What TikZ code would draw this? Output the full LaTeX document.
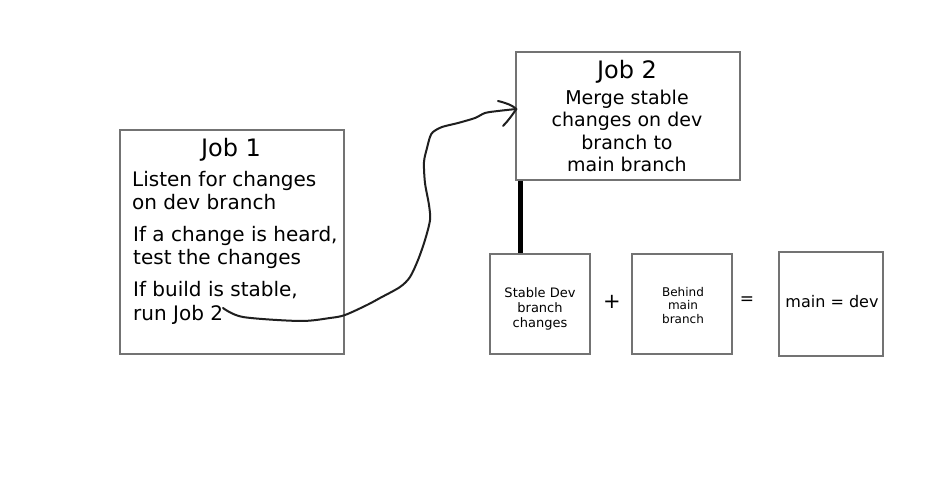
\documentclass[tikz,border=0pt]{standalone}
\usepackage{fontspec}
\setmainfont{DejaVu Sans}
\begin{document}
\begin{tikzpicture}[x=1pt,y=-1pt,
  box/.style={draw=black!55, line width=1.3pt, inner sep=0pt},
  txt/.style={inner sep=0pt, text=black},
  hand/.style={draw=black!88, line width=2pt, line cap=round, line join=round}]
\useasboundingbox[fill=white] (0,0) rectangle (935,486);
% boxes
\node[box, minimum width=224pt, minimum height=224pt] (job1) at (232,242) {};
\node[box, minimum width=224pt, minimum height=128pt] (job2) at (628,116) {};
\node[box, minimum width=100pt, minimum height=100pt] (stable) at (540,304) {};
\node[box, minimum width=100pt, minimum height=100pt] (behind) at (682,304) {};
\node[box, minimum width=104pt, minimum height=104pt] (result) at (831,304) {};
% Job 1 texts (base anchor = baseline of last line)
\node[txt, anchor=base, font=\fontsize{24}{28}\selectfont] (j1title) at (231,157) {Job 1};
\node[txt, anchor=base west, align=left, font=\fontsize{20}{23.5}\selectfont] (j1a) at (132,210) {Listen for changes\\on dev branch};
\node[txt, anchor=base west, align=left, font=\fontsize{20}{23.5}\selectfont] (j1b) at (133,265) {If a change is heard,\\test the changes};
\node[txt, anchor=base west, align=left, font=\fontsize{20}{23.5}\selectfont] (j1c) at (133,320.5) {If build is stable,\\run Job 2};
% Job 2 texts
\node[txt, anchor=base, font=\fontsize{24}{28}\selectfont] (j2title) at (627,79) {Job 2};
\node[txt, anchor=base, align=center, font=\fontsize{19}{22.4}\selectfont] (j2a) at (627,171.7) {Merge stable\\changes on dev\\branch to\\main branch};
% small boxes texts
\node[txt, align=center, font=\fontsize{13}{14.6}\selectfont] (stabletxt) at (540,309) {Stable Dev\\branch\\changes};
\node[txt, align=center, font=\fontsize{12}{13.7}\selectfont] (behindtxt) at (683,305.5) {Behind\\main\\branch};
\node[txt, font=\fontsize{16}{19}\selectfont] (resulttxt) at (832,302) {main = dev};
\node[txt, font=\fontsize{21}{24}\selectfont] (plus) at (612,302) {+};
\node[txt, font=\fontsize{17}{20}\selectfont] (eq) at (747,301) {=};
% thick link
\draw[line width=5pt, black] ([xshift=5pt]job2.south west) -- ([xshift=5pt]job2.south west |- stable.north);
% hand-drawn arrow
\coordinate (start) at (223,308);
\coordinate (tip) at ([yshift=7pt,xshift=1pt]job2.west);
\draw[hand] plot[smooth, tension=0.5] coordinates {(start) (243,317) (300,321) (330,318) (345,315) (367,305) (380,298) (400,287) (410,277) (418,260) (425,240) (430,220) (429,205) (425,183) (424,162) (427,148) (430,137) (433,132) (442,127) (458,123) (475,118) (485,113) (498,111) (tip)};
\draw[hand] (498,101) .. controls (506,103) and (512,105) .. (tip);
\draw[hand] (tip) .. controls (513,114) and (508,121) .. (503,126);
\end{tikzpicture}
\end{document}
